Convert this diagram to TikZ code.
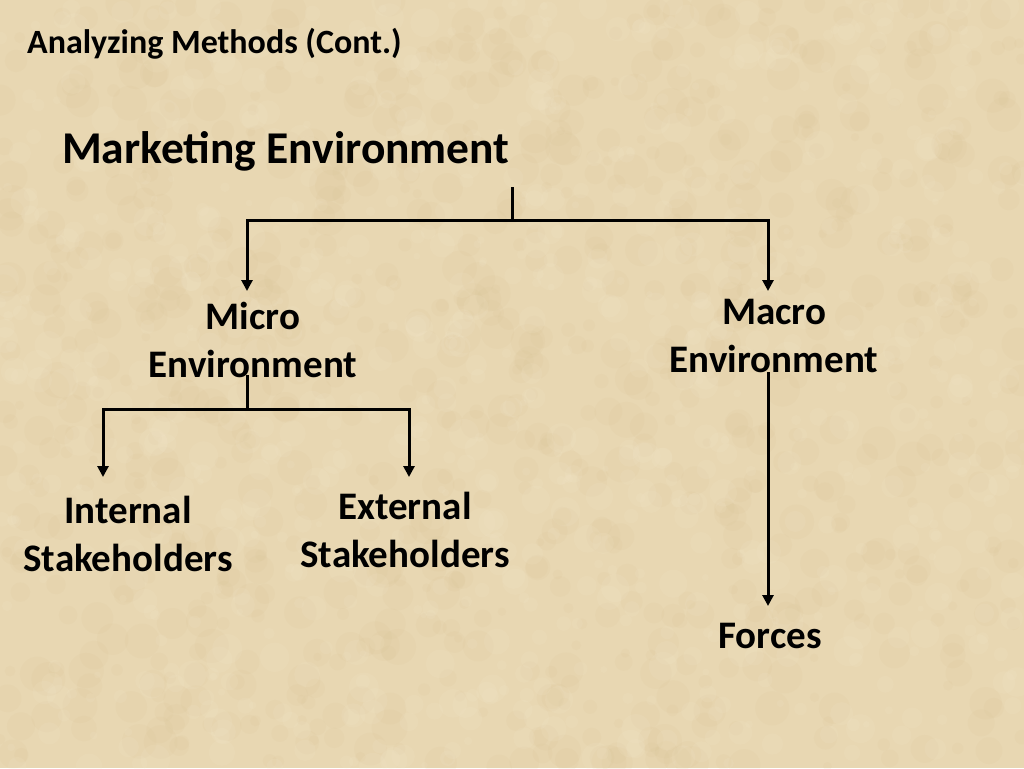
\documentclass[tikz,border=0pt]{standalone}
\usepackage{fontspec}
\setmainfont{Carlito}
\usetikzlibrary{arrows.meta}
\definecolor{bgbase}{RGB}{232,215,178}
\definecolor{bgdark}{RGB}{212,188,140}
\definecolor{bglight}{RGB}{245,234,208}
\tikzset{
  conn/.style={line width=3pt, black},
  arr/.style={conn, -{Triangle[width=11pt,length=11pt]}},
  lbl/.style={font=\bfseries\fontsize{39}{48}\selectfont, align=center, inner sep=0pt, anchor=base},
}
\begin{document}
\begin{tikzpicture}[x=1pt,y=-1pt]
\useasboundingbox (0,0) rectangle (1024,768);
\fill[bgbase] (0,0) rectangle (1024,768);
\pgfmathsetseed{7}
\begin{scope}
\clip (0,0) rectangle (1024,768);
\foreach \i in {1,...,900}{
  \pgfmathsetmacro{\px}{rnd*1024}
  \pgfmathsetmacro{\py}{rnd*768}
  \pgfmathsetmacro{\pr}{4+rnd*14}
  \fill[bgdark, opacity=0.09] (\px,\py) circle[radius=\pr];
}
\foreach \i in {1,...,900}{
  \pgfmathsetmacro{\px}{rnd*1024}
  \pgfmathsetmacro{\py}{rnd*768}
  \pgfmathsetmacro{\pr}{3+rnd*12}
  \fill[bglight, opacity=0.12] (\px,\py) circle[radius=\pr];
}
\end{scope}

\node[font=\bfseries\fontsize{34}{40}\selectfont, anchor=base west, inner sep=0pt] (title) at (27,53) {Analyzing Methods (Cont.)};
\node[font=\bfseries\fontsize{45.5}{54}\selectfont, anchor=base west, inner sep=0pt] (mkt) at (62,163) {Marketing Environment};

\node[lbl] (micro) at (253,377) {Micro\\Environment};
\node[lbl] (macro) at (774,372) {Macro\\Environment};
\node[lbl] (internal) at (128,571) {Internal\\Stakeholders};
\node[lbl] (external) at (405,567) {External\\Stakeholders};
\node[lbl] (forces) at (770,648) {Forces};

\coordinate (mktstem) at (512,187);
\coordinate (j1) at (512,220);
\coordinate (microtip) at (247,291);
\coordinate (macrotip) at (768,291);
\coordinate (microstem) at (247,375);
\coordinate (j2) at (247,409);
\coordinate (inttip) at (103,477);
\coordinate (exttip) at (409,477);
\coordinate (macrostem) at (768,372);
\coordinate (forcetip) at (768,606);

\draw[conn] (mktstem) -- (j1);
\draw[arr] (j1) -| (microtip);
\draw[arr] (j1) -| (macrotip);
\draw[conn] (microstem) -- (j2);
\draw[arr] (j2) -| (inttip);
\draw[arr] (j2) -| (exttip);
\draw[arr] (macrostem) -- (forcetip);
\end{tikzpicture}
\end{document}
